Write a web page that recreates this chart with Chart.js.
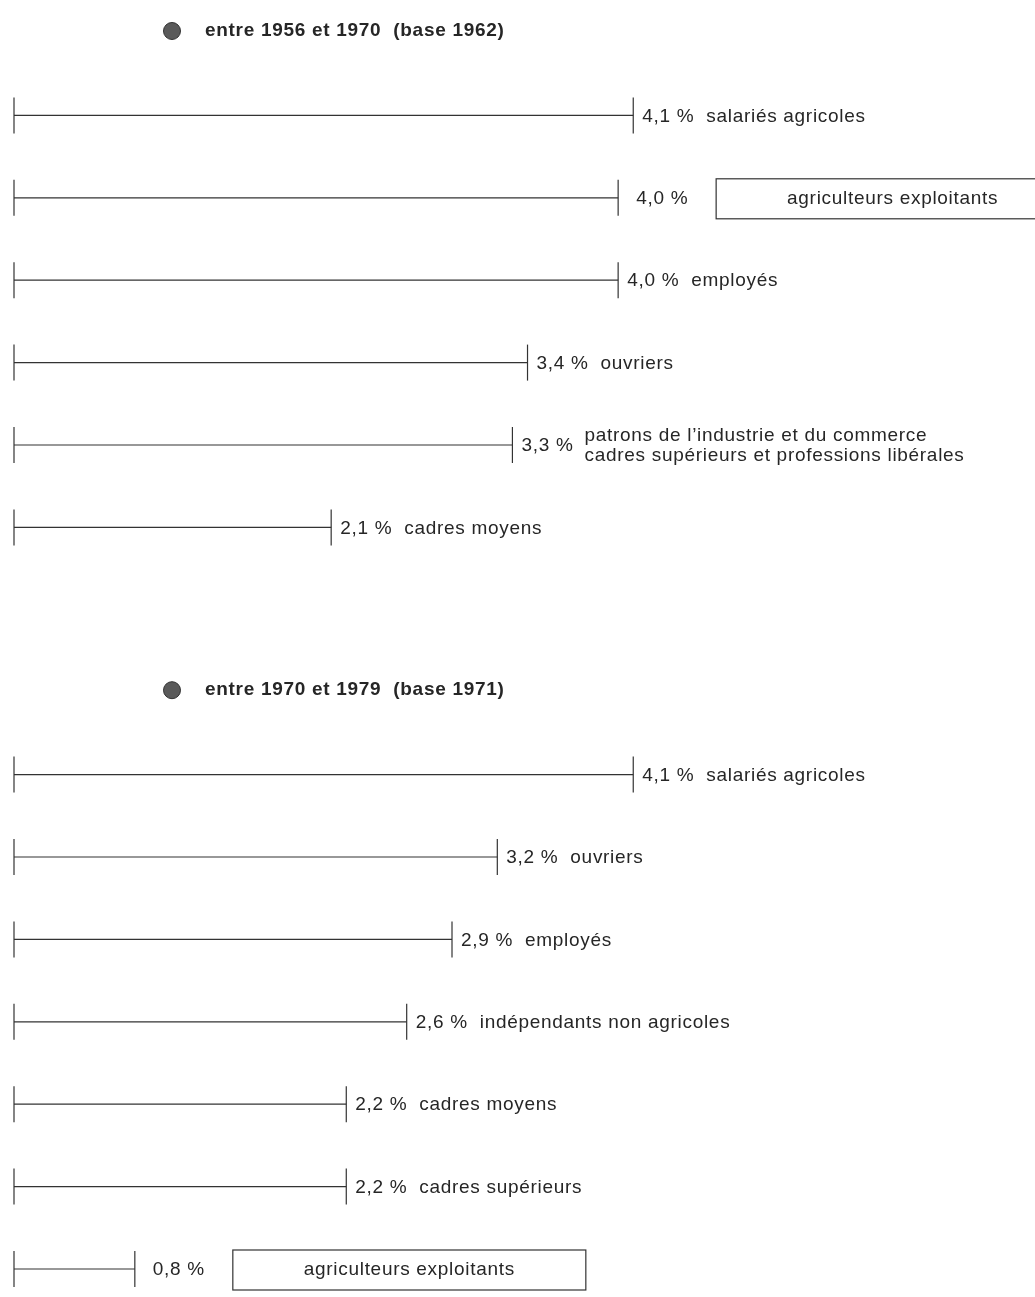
<!DOCTYPE html>
<html>
<head>
<meta charset="utf-8">
<script src="https://cdn.jsdelivr.net/npm/chart.js@4.4.1/dist/chart.umd.min.js"></script>
<style>
  body { margin: 0; background: #fff; }
  #wrap { position: relative; width: 1035px; height: 1297px; }
</style>
</head>
<body>
<div id="wrap"><canvas id="growthChart"></canvas></div>
<script>
const titles = ["entre 1956 et 1970  (base 1962)", "entre 1970 et 1979  (base 1971)"];

const categories1956 = [
    "salariés agricoles",
    "agriculteurs exploitants",
    "employés",
    "ouvriers",
    "patrons de l’industrie et du commerce\ncadres supérieurs et professions libérales",
    "cadres moyens"
];
const values1956 = [4.1, 4.0, 4.0, 3.4, 3.3, 2.1];

const categories1970 = [
    "salariés agricoles",
    "ouvriers",
    "employés",
    "indépendants non agricoles",
    "cadres moyens",
    "cadres supérieurs",
    "agriculteurs exploitants"
];
const values1970 = [4.1, 3.2, 2.9, 2.6, 2.2, 2.2, 0.8];

// categories shown in a framed box
const boxedCategories = ["agriculteurs exploitants"];

// one row per title / bar, plus a blank row between the two periods
const rowLabels = [
    "T0", ...categories1956.map((c, i) => "A" + i),
    "gap",
    "T1", ...categories1970.map((c, i) => "B" + i)
];

const lineColor = "#333";
const textColor = "#262626";
const font = '"Liberation Sans", Arial, sans-serif';

function makeDatasets(cats, vals, prefix) {
    return cats.map((c, i) => ({
        data: [{ x: 0, y: prefix + i }, { x: vals[i], y: prefix + i }],
        value: vals[i],
        category: c,
        borderColor: lineColor,
        borderWidth: 1.2,
        pointStyle: "line",
        pointRotation: 90,
        pointRadius: 18,
        pointBorderColor: lineColor,
        pointBorderWidth: 1.2,
        clip: false
    }));
}

const fmt = v => v.toFixed(1).replace(".", ",") + " %";

// Draws the titles and the text at the end of each bar
const labelPlugin = {
    id: "rowLabels",
    afterDatasetsDraw(chart) {
        const ctx = chart.ctx;
        const yScale = chart.scales.y;
        const left = chart.chartArea.left;
        ctx.save();
        ctx.textBaseline = "middle";
        ctx.textAlign = "left";
        ctx.letterSpacing = "0.7px";

        titles.forEach((t, i) => {
            const y = yScale.getPixelForValue(rowLabels.indexOf("T" + i)) - 2;
            ctx.beginPath();
            ctx.arc(left + 158, y, 8.5, 0, Math.PI * 2);
            ctx.fillStyle = "#5a5a5a";
            ctx.fill();
            ctx.lineWidth = 1;
            ctx.strokeStyle = "#333";
            ctx.stroke();
            ctx.fillStyle = textColor;
            ctx.font = "bold 19px " + font;
            ctx.fillText(t, left + 191, y);
        });

        ctx.font = "19px " + font;
        chart.data.datasets.forEach((ds, i) => {
            const end = chart.getDatasetMeta(i).data[1];
            const x = end.x, y = end.y + 1;
            const valText = fmt(ds.value);
            ctx.fillStyle = textColor;
            if (boxedCategories.includes(ds.category)) {
                const tx = x + 18;
                ctx.fillText(valText, tx, y);
                const bx = tx + 80, bw = 353, bh = 40;
                ctx.strokeStyle = lineColor;
                ctx.lineWidth = 1.2;
                ctx.strokeRect(bx, y - bh / 2, bw, bh);
                ctx.fillText(ds.category, bx + (bw - ctx.measureText(ds.category).width) / 2, y);
            } else if (ds.category.includes("\n")) {
                ctx.fillText(valText, x + 9, y);
                const nx = x + 9 + ctx.measureText(valText).width + 11;
                const lines = ds.category.split("\n");
                lines.forEach((l, k) => {
                    ctx.fillText(l, nx, y + (k - (lines.length - 1) / 2) * 20);
                });
            } else {
                ctx.fillText(valText + "  " + ds.category, x + 9, y);
            }
        });
        ctx.restore();
    }
};

const ctx = document.getElementById("growthChart").getContext("2d");
const growthChart = new Chart(ctx, {
    type: "line",
    data: {
        datasets: [
            ...makeDatasets(categories1956, values1956, "A"),
            ...makeDatasets(categories1970, values1970, "B")
        ]
    },
    options: {
        responsive: true,
        maintainAspectRatio: false,
        animation: false,
        events: [],
        layout: { autoPadding: false, padding: { left: 14, right: 0, top: 33, bottom: 28 } },
        plugins: {
            legend: { display: false },
            tooltip: { enabled: false }
        },
        scales: {
            x: { type: "linear", min: 0, max: 6.76, display: false },
            y: { type: "category", labels: rowLabels, offset: false, display: false }
        }
    },
    plugins: [labelPlugin]
});
</script>
</body>
</html>
